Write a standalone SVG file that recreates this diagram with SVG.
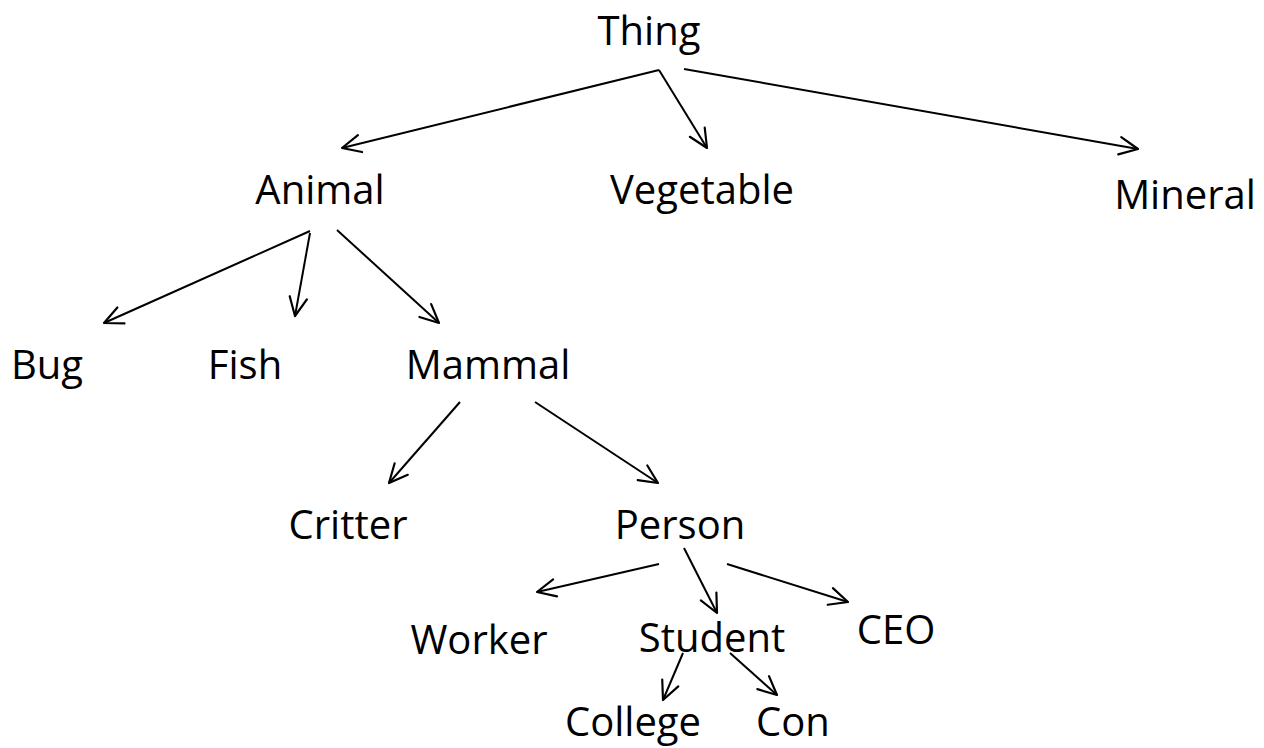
<svg xmlns="http://www.w3.org/2000/svg" width="1264" height="748" viewBox="0 0 1264 748">
<defs>
<style>
text{font-family:"Open Sans",Lato,sans-serif;font-size:40px;fill:#000;text-anchor:middle}
.c line{stroke:#000;stroke-width:2;marker-end:url(#ah)}
</style>
<marker id="ah" markerUnits="userSpaceOnUse" markerWidth="24" markerHeight="24" viewBox="-20 -10 22 20" refX="0" refY="0" orient="auto">
<path d="M-17,-8 L0,0 L-17,8" fill="none" stroke="#000" stroke-width="2" stroke-linecap="round" stroke-linejoin="round"/>
</marker>
</defs>
<rect width="1264" height="748" fill="#fff"/>
<g id="connectors" class="c">
<line x1="659" y1="70" x2="342" y2="148"/>
<line x1="659" y1="70" x2="707" y2="148"/>
<line x1="684" y1="69" x2="1138" y2="149"/>
<line x1="310" y1="231" x2="104" y2="323"/>
<line x1="310" y1="233" x2="295" y2="316"/>
<line x1="337" y1="230" x2="439" y2="323"/>
<line x1="460" y1="402" x2="389" y2="483"/>
<line x1="535" y1="402" x2="658" y2="483"/>
<line x1="659" y1="564" x2="537" y2="592"/>
<line x1="684" y1="548" x2="717" y2="613"/>
<line x1="727" y1="564" x2="848" y2="602"/>
<line x1="683" y1="653" x2="663" y2="700"/>
<line x1="730" y1="653" x2="777" y2="695"/>
</g>
<g id="thing"><text x="649" y="45">Thing</text></g>
<g id="animal"><text x="320" y="204">Animal</text></g>
<g id="vegetable"><text x="702" y="204">Vegetable</text></g>
<g id="mineral"><text x="1185" y="209" font-size="41">Mineral</text></g>
<g id="bug"><text x="47" y="379">Bug</text></g>
<g id="fish"><text x="245" y="379">Fish</text></g>
<g id="mammal"><text x="488" y="379">Mammal</text></g>
<g id="critter"><text x="348" y="539">Critter</text></g>
<g id="person"><text x="680" y="539">Person</text></g>
<g id="worker"><text x="479" y="654">Worker</text></g>
<g id="student"><text x="712" y="652">Student</text></g>
<g id="ceo"><text x="896" y="644">CEO</text></g>
<g id="college"><text x="633" y="736">College</text></g>
<g id="con"><text x="793" y="736">Con</text></g>
</svg>
